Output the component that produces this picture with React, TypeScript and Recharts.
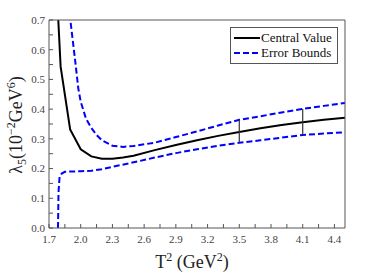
import React from 'react';
import { LineChart, Line, XAxis, YAxis, Legend } from 'recharts';

// Central value curve
const centralT2 = [1.785, 1.81, 1.9, 2.0, 2.1, 2.2, 2.3, 2.4, 2.5, 2.7, 2.9, 3.1, 3.3, 3.5, 3.7, 3.9, 4.1, 4.3, 4.5];
const centralVals = [0.72, 0.543, 0.332, 0.265, 0.241, 0.233, 0.233, 0.237, 0.243, 0.262, 0.279, 0.295, 0.31, 0.323, 0.336, 0.347, 0.356, 0.364, 0.371];

// Upper error bound
const upperT2 = [1.895, 1.945, 1.977, 2.0, 2.05, 2.1, 2.15, 2.2, 2.3, 2.4, 2.5, 2.7, 2.9, 3.1, 3.3, 3.5, 3.7, 3.9, 4.1, 4.3, 4.5];
const upperVals = [0.72, 0.571, 0.47, 0.425, 0.368, 0.337, 0.313, 0.295, 0.277, 0.273, 0.276, 0.287, 0.306, 0.325, 0.345, 0.364, 0.376, 0.389, 0.401, 0.411, 0.421];

// Lower error bound
const lowerT2 = [1.785, 1.79, 1.8, 1.82, 1.85, 1.9, 2.0, 2.1, 2.2, 2.3, 2.5, 2.7, 2.9, 3.1, 3.3, 3.5, 3.7, 3.9, 4.1, 4.3, 4.5];
const lowerVals = [0.0, 0.12, 0.172, 0.183, 0.189, 0.19, 0.191, 0.193, 0.198, 0.206, 0.221, 0.237, 0.252, 0.265, 0.277, 0.287, 0.295, 0.304, 0.313, 0.318, 0.322];

// Error bars
const errorBarT2 = [3.5, 4.1];
const errorBarLow = [0.287, 0.313];
const errorBarHigh = [0.364, 0.401];

// Ticks
const xTicks = [1.7, 1.85, 2.0, 2.15, 2.3, 2.45, 2.6, 2.75, 2.9, 3.05, 3.2, 3.35, 3.5, 3.65, 3.8, 3.95, 4.1, 4.25, 4.4];
const yTicks = [0, 0.05, 0.1, 0.15, 0.2, 0.25, 0.3, 0.35, 0.4, 0.45, 0.5, 0.55, 0.6, 0.65, 0.7];
const seriesNames = ['Central Value', 'Error Bounds'];

const toPoints = (xs: number[], ys: number[]) => xs.map((x, i) => ({ t2: x, v: ys[i] }));

const centralData = toPoints(centralT2, centralVals);
const upperData = toPoints(upperT2, upperVals);
const lowerData = toPoints(lowerT2, lowerVals);
const errorBarData = errorBarT2.map((x, i) => [
  { t2: x, v: errorBarLow[i] },
  { t2: x, v: errorBarHigh[i] },
]);

const FONT = 'Liberation Serif, DejaVu Serif, serif';
const AXIS = '#555';
const BLUE = '#0000ff';

const XTitle = (props: any) => {
  const vb = props.viewBox || { x: 0, y: 0, width: 0, height: 0 };
  const cx = vb.x + vb.width / 2 - 5;
  return (
    <text x={cx} y={268} textAnchor="middle" style={{ fontFamily: FONT }} fontSize={18} fill="#222">
      T<tspan dy={-7} fontSize={12}>2</tspan>
      <tspan dy={7}> (GeV</tspan>
      <tspan dy={-7} fontSize={12}>2</tspan>
      <tspan dy={7}>)</tspan>
    </text>
  );
};

const YTitle = () => {
  const x = 22;
  const y = 125;
  return (
    <text x={x} y={y} transform={`rotate(-90, ${x}, ${y})`} textAnchor="middle" style={{ fontFamily: FONT }} fontSize={18} fill="#222">
      λ<tspan dy={4} fontSize={12}>5</tspan>
      <tspan dy={-4}>(10</tspan>
      <tspan dy={-7} fontSize={12}>−2</tspan>
      <tspan dy={7}>GeV</tspan>
      <tspan dy={-7} fontSize={12}>6</tspan>
      <tspan dy={7}>)</tspan>
    </text>
  );
};

const LegendBox = () => (
  <div
    style={{
      border: '1px solid #555',
      background: '#fff',
      width: 106,
      height: 33,
      boxSizing: 'content-box',
      fontFamily: FONT,
      fontSize: 13,
      color: '#111',
      lineHeight: '15px',
      paddingTop: 2,
    }}
  >
    {seriesNames.map((name, i) => (
      <div key={name} style={{ display: 'flex', alignItems: 'center', height: 15, whiteSpace: 'nowrap' }}>
        <svg width={30} height={15} style={{ flex: 'none' }}>
          <line
            x1={3}
            y1={8}
            x2={29}
            y2={8}
            stroke={i === 0 ? '#000' : BLUE}
            strokeWidth={2}
            strokeDasharray={i === 0 ? undefined : '6 3'}
          />
        </svg>
        <span>{name}</span>
      </div>
    ))}
  </div>
);

const tickStyle = { fontFamily: FONT, fontSize: 11, fill: '#444', style: { fontFamily: FONT } };

export default function App() {
  return (
    <div style={{ position: 'absolute', left: 0, top: 0, fontFamily: FONT }}>
      <LineChart width={382} height={273} margin={{ top: 19, right: 36, bottom: 0, left: 0 }} style={{ fontFamily: FONT }}>
        <XAxis
          dataKey="t2"
          type="number"
          domain={[1.7, 4.5]}
          allowDataOverflow
          ticks={xTicks}
          interval={0}
          tickSize={-4}
          tickMargin={11}
          tickFormatter={(v: number, i: number) => (i % 2 === 0 ? v.toFixed(1) : '')}
          tick={tickStyle}
          stroke={AXIS}
          height={45}
          label={<XTitle />}
        />
        <XAxis
          xAxisId="top"
          orientation="top"
          type="number"
          domain={[1.7, 4.5]}
          allowDataOverflow
          ticks={xTicks}
          interval={0}
          tickSize={-4}
          tick={false}
          stroke={AXIS}
          height={1}
        />
        <YAxis
          type="number"
          domain={[0, 0.7]}
          allowDataOverflow
          ticks={yTicks}
          interval={0}
          tickSize={-4}
          tickMargin={8}
          tickFormatter={(v: number, i: number) => (i % 2 === 0 ? v.toFixed(1) : '')}
          tick={tickStyle}
          stroke={AXIS}
          width={49}
          label={<YTitle />}
        />
        <YAxis
          yAxisId="right"
          orientation="right"
          type="number"
          domain={[0, 0.7]}
          allowDataOverflow
          ticks={yTicks}
          interval={0}
          tickSize={-4}
          tick={false}
          stroke={AXIS}
          width={1}
        />
        <Legend
          layout="horizontal"
          verticalAlign="middle"
          align="center"
          content={() => <LegendBox />}
          wrapperStyle={{ left: 230, top: 27, width: 108 }}
        />
        <Line data={upperData} dataKey="v" stroke={BLUE} strokeWidth={2} strokeDasharray="6 3" dot={false} isAnimationActive={false} />
        <Line data={lowerData} dataKey="v" stroke={BLUE} strokeWidth={2} strokeDasharray="6 3" dot={false} isAnimationActive={false} />
        <Line data={centralData} dataKey="v" stroke="#000" strokeWidth={2} dot={false} isAnimationActive={false} />
        {errorBarData.map((d, i) => (
          <Line key={i} data={d} dataKey="v" stroke="#333" strokeWidth={1.2} dot={false} isAnimationActive={false} />
        ))}
      </LineChart>
    </div>
  );
}
